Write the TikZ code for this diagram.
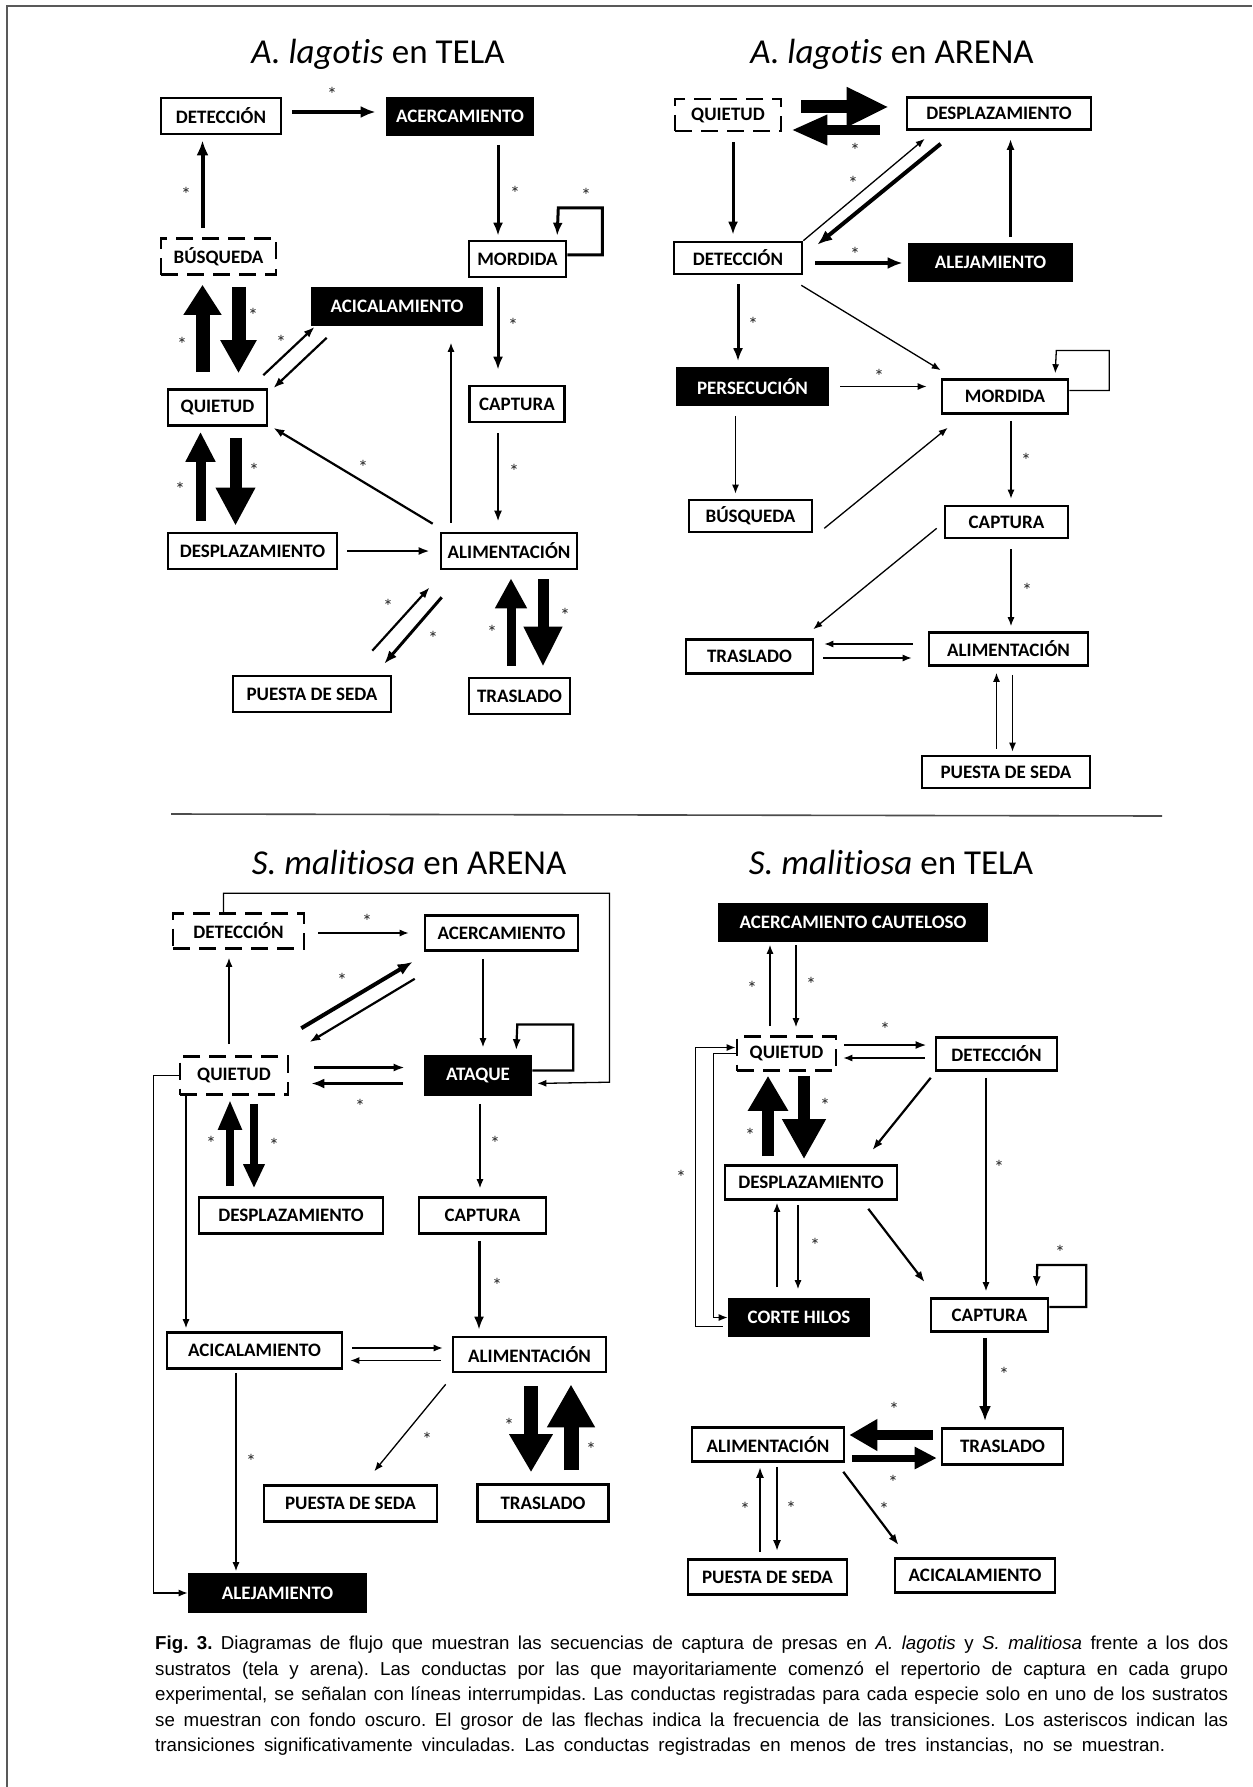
\documentclass[tikz,border=0pt]{standalone}
\usepackage{fontspec}
\usetikzlibrary{arrows.meta}
\newfontfamily\calibri[Ligatures=NoCommon]{Carlito}
\newfontfamily\arialsans{Liberation Sans}
\newcommand\boxfnt{\calibri\bfseries\fontsize{19}{19}\selectfont}
\newcommand\panelfnt{\calibri\fontsize{35}{35}\selectfont}
\newcommand\starfnt{\calibri\fontsize{20}{20}\selectfont}
\newcommand\capfnt{\arialsans\fontsize{18.7}{25.5}\selectfont\frenchspacing}
\tikzset{
  box/.style={draw,line width=2.6pt,fill=white,minimum height=36,inner sep=0pt,font=\boxfnt},
  darkbox/.style={box,fill=black,text=white},
  startbox/.style={box,dash pattern=on 17pt off 9pt},
  paneltitle/.style={font=\panelfnt,inner sep=0pt,anchor=base},
  ast/.style={font=\starfnt,inner sep=0pt,text=black!85},
  flowthin/.style={-{Latex[length=9pt,width=7pt]},line width=1.3pt},
  flow/.style={-{Latex[length=11pt,width=8pt]},line width=2.2pt},
  flowbold/.style={-{Latex[length=13pt,width=10pt]},line width=3pt},
  flowheavy/.style={-{Latex[length=15pt,width=12pt]},line width=4pt},
  fatflow/.style n args={3}{-{Triangle[length=#3,width=#2]},line width=#1}
}
\begin{document}
\begin{tikzpicture}[x=1pt,y=-1pt]
  \useasboundingbox (0,0) rectangle (1252,1787);
  \fill[white] (0,0) rectangle (1252,1787);
  \draw[line width=2pt,black!65] (7,1787) -- (7,6) -- (1252,6);
  \draw[line width=1.6pt,black!70] (171,814) -- (1162,816);

  \node[paneltitle] (ltTitle) at (378,64) {\textit{A. lagotis} en TELA};
  \node[box,minimum width=120] (ltDet) at (221,116) {DETECCIÓN};
  \node[darkbox,minimum width=146] (ltAcer) at (460,116.5) {ACERCAMIENTO};
  \node[startbox,minimum width=115] (ltBus) at (218.5,256.5) {BÚSQUEDA};
  \node[box,minimum width=97] (ltMor) at (517.5,259) {MORDIDA};
  \node[darkbox,minimum width=170] (ltAcic) at (397,306.5) {ACICALAMIENTO};
  \node[box,minimum width=95] (ltCap) at (517,404) {CAPTURA};
  \node[box,minimum width=99] (ltQui) at (217.5,407.5) {QUIETUD};
  \node[box,minimum width=169] (ltDes) at (252.5,551) {DESPLAZAMIENTO};
  \node[box,minimum width=136] (ltAli) at (509,551) {ALIMENTACIÓN};
  \node[box,minimum width=158] (ltPue) at (312,694) {PUESTA DE SEDA};
  \node[box,minimum width=101] (ltTra) at (519.5,696) {TRASLADO};
  \draw[flowheavy,shorten <=10,shorten >=10] ([yshift=4]ltDet.east) -- ([yshift=4]ltDet.east -| ltAcer.west) node[ast] at (332,94) {*};
  \draw[flowheavy,shorten <=9,shorten >=5] ([xshift=-16]ltBus.north) -- ([xshift=-16]ltBus.north |- ltDet.south) node[ast] at (186,194) {*};
  \draw[flowbold,shorten <=9,shorten >=4] ([xshift=-19.5]ltMor.north |- ltAcer.south) -- ([xshift=-19.5]ltMor.north) node[ast] at (515,193) {*};
  \draw[flowbold,shorten >=4] ([yshift=4]ltMor.east) -- ++(35,0) -- ++(0,-47) -- ++(-44,0) -- ([xshift=39.5]ltMor.north) node[ast] at (586,195) {*};
  \draw[flowbold,shorten <=9,shorten >=15] ([xshift=-19.5]ltMor.south) -- ([xshift=-19.5]ltMor.south |- ltCap.north) node[ast] at (513,325) {*};
  \draw[flow,shorten <=10,shorten >=10] ([xshift=-19]ltCap.south) -- ([xshift=-19]ltCap.south |- ltAli.north) node[ast] at (514,471) {*};
  \draw[fatflow={14pt}{36pt}{30pt},shorten <=16,shorten >=9] ([xshift=-15]ltQui.north) -- ([xshift=-15]ltQui.north |- ltBus.south) node[ast] at (182,344) {*};
  \draw[fatflow={14pt}{34pt}{33pt},shorten <=11,shorten >=15] ([xshift=20]ltBus.south) -- ([xshift=20]ltBus.south |- ltQui.north) node[ast] at (253,315) {*};
  \draw[flow] ([xshift=-5,yshift=13]ltQui.north east) -- ([xshift=4,yshift=-1]ltAcic.south west);
  \draw[flow] ([xshift=16,yshift=-12]ltAcic.south west) -- ([xshift=5]ltQui.north east) node[ast] at (281,342) {*};
  \draw[flowthin,shorten <=9,shorten >=17] ([xshift=-58]ltAli.north) -- ([xshift=-58]ltAli.north |- ltAcic.south);
  \draw[fatflow={10pt}{28pt}{30pt},shorten <=11,shorten >=5] ([xshift=-52]ltDes.north) -- ([xshift=-52]ltDes.north |- ltQui.south) node[ast] at (180,489) {*};
  \draw[fatflow={12pt}{37pt}{38pt},shorten <=11,shorten >=6] ([xshift=18]ltQui.south) -- ([xshift=18]ltQui.south |- ltDes.north) node[ast] at (254,470) {*};
  \draw[flow,shorten <=9,shorten >=10] (ltDes.east) -- (ltAli.west);
  \draw[flow] ([xshift=-7,yshift=8]ltAli.north west) -- ([xshift=5,yshift=-1]ltQui.south east) node[ast] at (363,467) {*};
  \draw[flow] ([xshift=-20,yshift=24]ltPue.north east) -- ([xshift=-10,yshift=-17]ltAli.south west) node[ast] at (388,606) {*};
  \draw[flowbold] ([xshift=2,yshift=-27]ltAli.south west) -- ([xshift=-8,yshift=11]ltPue.north east) node[ast] at (433,638) {*};
  \draw[fatflow={9pt}{30pt}{30pt},shorten <=11,shorten >=8] ([xshift=-8.5]ltTra.north) -- ([xshift=-8.5]ltTra.north |- ltAli.south) node[ast] at (492,632) {*};
  \draw[fatflow={11pt}{36pt}{40pt},shorten <=9,shorten >=10] ([xshift=23.5]ltTra.north |- ltAli.south) -- ([xshift=23.5]ltTra.north) node[ast] at (565,615) {*};

  \begin{scope}[box/.append style={minimum height=32}]
  \node[paneltitle] (laTitle) at (892,64) {\textit{A. lagotis} en ARENA};
  \node[startbox,minimum width=106] (laQui) at (728,115) {QUIETUD};
  \node[box,minimum width=184] (laDes) at (999,113.5) {DESPLAZAMIENTO};
  \node[box,minimum width=128] (laDet) at (738,258) {DETECCIÓN};
  \node[darkbox,minimum width=163,minimum height=36] (laAle) at (990.5,262.5) {ALEJAMIENTO};
  \node[darkbox,minimum width=151,minimum height=36] (laPer) at (752.5,386.5) {PERSECUCIÓN};
  \node[box,minimum width=126,minimum height=34] (laMor) at (1005,396.5) {MORDIDA};
  \node[box,minimum width=123] (laBus) at (750.5,516) {BÚSQUEDA};
  \node[box,minimum width=123] (laCap) at (1006.5,522) {CAPTURA};
  \node[box,minimum width=127,minimum height=34] (laTra) at (749.5,656.5) {TRASLADO};
  \node[box,minimum width=159,minimum height=33] (laAli) at (1008.5,649) {ALIMENTACIÓN};
  \node[box,minimum width=168] (laPue) at (1006,772) {PUESTA DE SEDA};
  \end{scope}
  \draw[fatflow={13pt}{37pt}{42pt},shorten <=19,shorten >=17] ([yshift=8]laQui.east) -- ([yshift=8]laQui.east -| laDes.west);
  \draw[fatflow={10pt}{28pt}{36pt},shorten <=26,shorten >=9] ([yshift=-15]laQui.east -| laDes.west) -- ([yshift=-15]laQui.east) node[ast] at (855,150) {*};
  \draw[flowbold,shorten <=10,shorten >=6] ([xshift=5]laQui.south) -- ([xshift=5]laQui.south |- laDet.north);
  \draw[flowthin] (laDet.north east) -- ([xshift=19,yshift=-8]laDes.south west);
  \draw[flowheavy] ([xshift=35,yshift=-13]laDes.south west) -- ([xshift=14,yshift=-4]laDet.north east) node[ast] at (853,183) {*};
  \draw[flow,shorten <=6,shorten >=8] ([xshift=20]laAle.north) -- ([xshift=20]laAle.north |- laDes.south);
  \draw[flowheavy,shorten <=12,shorten >=5] ([yshift=-5]laDet.east) -- ([yshift=-5]laDet.east -| laAle.west) node[ast] at (855,254) {*};
  \draw[flowbold,shorten <=9,shorten >=6] (laDet.south) -- (laDet.south |- laPer.north) node[ast] at (753,324) {*};
  \draw[flowthin] ([xshift=-2,yshift=-10]laDet.south east) -- ([yshift=8]laMor.north west);
  \draw[flowthin,shorten <=11,shorten >=14] (laPer.east) -- (laPer.east -| laMor.west) node[ast] at (879,376) {*};
  \draw[flowthin,shorten >=5] ([yshift=6]laMor.east) -- ++(40,0) -- ++(0,-40) -- ++(-53,0) -- ([xshift=50]laMor.north);
  \draw[flowthin,shorten <=10,shorten >=5] ([xshift=-17]laPer.south) -- ([xshift=-17]laPer.south |- laBus.north);
  \draw[flowthin] ([xshift=11,yshift=5]laBus.south east) -- ([xshift=7,yshift=-13]laMor.south west);
  \draw[flowthin,shorten <=6,shorten >=6] ([xshift=6]laMor.south) -- ([xshift=6]laMor.south |- laCap.north) node[ast] at (1026,460) {*};
  \draw[flowthin] ([xshift=-7,yshift=11]laCap.south west) -- ([xshift=-1,yshift=9]laTra.north east);
  \draw[flowthin,shorten <=10,shorten >=5] ([xshift=4.5]laCap.south) -- ([xshift=4.5]laCap.south |- laAli.north) node[ast] at (1027,590) {*};
  \draw[flowthin,shorten <=15,shorten >=10] ([yshift=5]laAli.west) -- ([yshift=5]laAli.west -| laTra.east);
  \draw[flowthin,shorten <=9,shorten >=16] ([yshift=-9]laAli.west -| laTra.east) -- ([yshift=-9]laAli.west);
  \draw[flowthin,shorten <=6,shorten >=6] ([xshift=-12]laAli.south |- laPue.north) -- ([xshift=-12]laAli.south);
  \draw[flowthin,shorten <=8,shorten >=3] ([xshift=4]laAli.south) -- ([xshift=4]laAli.south |- laPue.north);

  \node[paneltitle] (maTitle) at (409,874) {\textit{S. malitiosa} en ARENA};
  \node[startbox,minimum width=131,minimum height=35] (maDet) at (238.5,931) {DETECCIÓN};
  \node[box,minimum width=153,minimum height=35] (maAcer) at (501.5,933) {ACERCAMIENTO};
  \node[darkbox,minimum width=106,minimum height=38] (maAta) at (478,1075.5) {ATAQUE};
  \node[startbox,minimum width=108,minimum height=38] (maQui) at (234,1075.5) {QUIETUD};
  \node[box,minimum width=184] (maDes) at (291,1215.5) {DESPLAZAMIENTO};
  \node[box,minimum width=127] (maCap) at (482.5,1215.5) {CAPTURA};
  \node[box,minimum width=175] (maAcic) at (254.5,1350.5) {ACICALAMIENTO};
  \node[box,minimum width=153,minimum height=35] (maAli) at (529.5,1354.5) {ALIMENTACIÓN};
  \node[box,minimum width=131,minimum height=37] (maTra) at (543,1503) {TRASLADO};
  \node[box,minimum width=173] (maPue) at (350.5,1503.5) {PUESTA DE SEDA};
  \node[darkbox,minimum width=177,minimum height=37] (maAle) at (277.5,1593) {ALEJAMIENTO};
  \draw[flowthin,shorten <=13,shorten >=15] ([yshift=-2]maDet.east) -- ([yshift=-2]maDet.east -| maAcer.west) node[ast] at (367,921) {*};
  \draw[flowthin,shorten >=5] ([xshift=-15]maDet.north) -- ++(0,-19) -- ++(386,0) -- ++(0,189) -- ([yshift=-8]maAta.east);
  \draw[flow,shorten >=5] ([yshift=5]maAta.east) -- ++(41,0) -- ++(0,-46) -- ++(-56,0) -- ([xshift=38]maAta.north);
  \draw[flowthin,shorten <=7,shorten >=8] ([xshift=5]maAta.north |- maAcer.south) -- ([xshift=5]maAta.north);
  \draw[flowthin,shorten <=11,shorten >=8] ([xshift=-5]maQui.north) -- ([xshift=-5]maQui.north |- maDet.south);
  \draw[flowheavy] ([xshift=12,yshift=27]maQui.north east) -- ([xshift=-11,yshift=-10]maAcer.south west) node[ast] at (342,980) {*};
  \draw[flow] ([xshift=-9,yshift=-27]maAcer.south west) -- ([xshift=20,yshift=13]maQui.north east);
  \draw[flow,shorten <=25,shorten >=19] ([yshift=8]maQui.east) -- ([yshift=8]maQui.east -| maAta.west);
  \draw[flowbold,shorten <=21,shorten >=22] ([yshift=-8]maQui.east -| maAta.west) -- ([yshift=-8]maQui.east) node[ast] at (360,1106) {*};
  \draw[fatflow={8pt}{22pt}{30pt},shorten <=10,shorten >=4] ([xshift=-4]maQui.south |- maDes.north) -- ([xshift=-4]maQui.south) node[ast] at (211,1143) {*};
  \draw[fatflow={8pt}{20pt}{24pt},shorten <=8,shorten >=8] ([xshift=20]maQui.south) -- ([xshift=20]maQui.south |- maDes.north) node[ast] at (274,1145) {*};
  \draw[flowthin,shorten <=8,shorten >=8] ([xshift=2]maAta.south) -- ([xshift=2]maAta.south |- maCap.north) node[ast] at (495,1143) {*};
  \draw[flowthin] (maQui.west) -- ++(-25,0) |- (maAle.west);
  \draw[flowthin,shorten >=3] ([xshift=-48]maQui.south) -- ([xshift=-48]maQui.south |- maAcic.north);
  \draw[flowbold,shorten <=6,shorten >=6] ([xshift=-3.5]maCap.south) -- ([xshift=-3.5]maCap.south |- maAli.north) node[ast] at (497,1285) {*};
  \draw[flowthin,shorten <=9,shorten >=9] ([yshift=2.5]maAcic.east) -- ([yshift=2.5]maAcic.east -| maAli.west);
  \draw[flowthin,shorten <=11,shorten >=7] ([yshift=-10]maAcic.east -| maAli.west) -- ([yshift=-10]maAcic.east);
  \draw[flowthin] ([xshift=-6,yshift=-11]maAli.south west) -- ([xshift=-64,yshift=13]maPue.north east) node[ast] at (427,1439) {*};
  \draw[fatflow={14pt}{41pt}{38pt},shorten <=13,shorten >=11] ([xshift=1.5]maAli.south) -- ([xshift=1.5]maAli.south |- maTra.north) node[ast] at (509,1425) {*};
  \draw[fatflow={15pt}{45pt}{43pt},shorten <=13,shorten >=11] ([xshift=28]maTra.north) -- ([xshift=28]maTra.north |- maAli.south) node[ast] at (591,1449) {*};
  \draw[flowthin,shorten <=3,shorten >=2] ([xshift=-18.5]maAcic.south) -- ([xshift=-18.5]maAcic.south |- maAle.north) node[ast] at (251,1461) {*};

  \begin{scope}[box/.append style={minimum height=34}]
  \node[paneltitle] (mtTitle) at (891,874) {\textit{S. malitiosa} en TELA};
  \node[darkbox,minimum width=268,minimum height=36] (mtAcc) at (853,922.5) {ACERCAMIENTO CAUTELOSO};
  \node[startbox,minimum width=99] (mtQui) at (786.5,1053.5) {QUIETUD};
  \node[box,minimum width=121,minimum height=33] (mtDet) at (996.5,1054) {DETECCIÓN};
  \node[box,minimum width=172] (mtDes) at (811,1182.5) {DESPLAZAMIENTO};
  \node[darkbox,minimum width=140,minimum height=36] (mtCor) at (799,1317.5) {CORTE HILOS};
  \node[box,minimum width=117,minimum height=33] (mtCap) at (989.5,1315) {CAPTURA};
  \node[box,minimum width=121,minimum height=36] (mtTra) at (1002.5,1446.5) {TRASLADO};
  \node[box,minimum width=152] (mtAli) at (768,1444.5) {ALIMENTACIÓN};
  \node[box,minimum width=159,minimum height=35] (mtPue) at (767.5,1577) {PUESTA DE SEDA};
  \node[box,minimum width=160] (mtAcic) at (975,1575.5) {ACICALAMIENTO};
  \end{scope}
  \draw[flowthin,shorten <=9,shorten >=3] ([xshift=-16.5]mtQui.north) -- ([xshift=-16.5]mtQui.north |- mtAcc.south) node[ast] at (752,988) {*};
  \draw[flowthin,shorten <=3,shorten >=8] ([xshift=9.5]mtQui.north |- mtAcc.south) -- ([xshift=9.5]mtQui.north) node[ast] at (811,984) {*};
  \draw[flow,shorten <=7,shorten >=8] ([yshift=8.5]mtQui.east) -- ([yshift=8.5]mtQui.east -| mtDet.west) node[ast] at (885,1029) {*};
  \draw[flowthin,shorten <=10,shorten >=6] ([yshift=-4.5]mtQui.east -| mtDet.west) -- ([yshift=-4.5]mtQui.east);
  \draw[fatflow={12pt}{38pt}{35pt},shorten <=8,shorten >=4] ([xshift=-18.5]mtQui.south |- mtDes.north) -- ([xshift=-18.5]mtQui.south) node[ast] at (750,1135) {*};
  \draw[fatflow={12pt}{41pt}{40pt},shorten <=4,shorten >=5] ([xshift=17.5]mtQui.south) -- ([xshift=17.5]mtQui.south |- mtDes.north) node[ast] at (825,1105) {*};
  \draw[flow] ([xshift=-4,yshift=-6]mtDet.south west) -- ([xshift=-26,yshift=14]mtDes.north east);
  \draw[flowthin,shorten <=6,shorten >=6] ([xshift=-10.5]mtDet.south) -- ([xshift=-10.5]mtDet.south |- mtCap.north) node[ast] at (999,1167) {*};
  \draw[flow] ([xshift=-30,yshift=-8]mtDes.south east) -- ([xshift=-5,yshift=15]mtCap.north west);
  \draw[flowthin] (mtQui.west) -- ++(-22,0) |- (mtCor.west);
  \draw[flowthin,shorten <=5] ([yshift=-9]mtCor.west) -- ++(-32,0) |- ([yshift=6]mtQui.west) node[ast] at (681,1177) {*};
  \draw[flowthin,shorten <=11,shorten >=2] ([xshift=-22]mtCor.north) -- ([xshift=-22]mtCor.north |- mtDes.south);
  \draw[flowthin,shorten <=4,shorten >=9] ([xshift=-1]mtCor.north |- mtDes.south) -- ([xshift=-1]mtCor.north) node[ast] at (815,1245) {*};
  \draw[flow,shorten >=10] ([yshift=8]mtCap.east) -- ++(37,0) -- ++(0,-42) -- ++(-49,0) -- ([xshift=46.5]mtCap.north) node[ast] at (1060,1252) {*};
  \draw[flowheavy,shorten <=5,shorten >=6] ([xshift=-4.5]mtCap.south) -- ([xshift=-4.5]mtCap.south |- mtTra.north) node[ast] at (1004,1374) {*};
  \draw[fatflow={10pt}{30pt}{28pt},shorten <=8,shorten >=4] ([yshift=11.5]mtTra.west) -- ([yshift=11.5]mtTra.west -| mtAli.east) node[ast] at (894,1409) {*};
  \draw[fatflow={7pt}{21pt}{22pt},shorten <=7,shorten >=4] ([yshift=-11.5]mtTra.west -| mtAli.east) -- ([yshift=-11.5]mtTra.west) node[ast] at (893,1482) {*};
  \draw[flow] ([xshift=-2,yshift=-9]mtAli.south east) -- ([xshift=5,yshift=12]mtAcic.north west) node[ast] at (884,1509) {*};
  \draw[flow,shorten <=6,shorten >=4] ([xshift=-7.5]mtPue.north) -- ([xshift=-7.5]mtPue.north |- mtAli.south) node[ast] at (745,1509) {*};
  \draw[flow,shorten <=4,shorten >=7] ([xshift=9.5]mtPue.north |- mtAli.south) -- ([xshift=9.5]mtPue.north) node[ast] at (791,1508) {*};

  \node[anchor=north west,inner sep=0pt,font=\capfnt,align=left] (caption) at (155,1636) {%
    \makebox[1073pt][s]{\textbf{Fig. 3.} Diagramas de flujo que muestran las secuencias de captura de presas en \textit{A. lagotis} y \textit{S. malitiosa} frente a los dos}\\
    \makebox[1073pt][s]{sustratos (tela y arena). Las conductas por las que mayoritariamente comenzó el repertorio de captura en cada grupo}\\
    \makebox[1073pt][s]{experimental, se señalan con líneas interrumpidas. Las conductas registradas para cada especie solo en uno de los sustratos}\\
    \makebox[1073pt][s]{se muestran con fondo oscuro. El grosor de las flechas indica la frecuencia de las transiciones. Los asteriscos indican las}\\
    \makebox[1010pt][s]{transiciones significativamente vinculadas. Las conductas registradas en menos de tres instancias, no se muestran.}};
\end{tikzpicture}
\end{document}
